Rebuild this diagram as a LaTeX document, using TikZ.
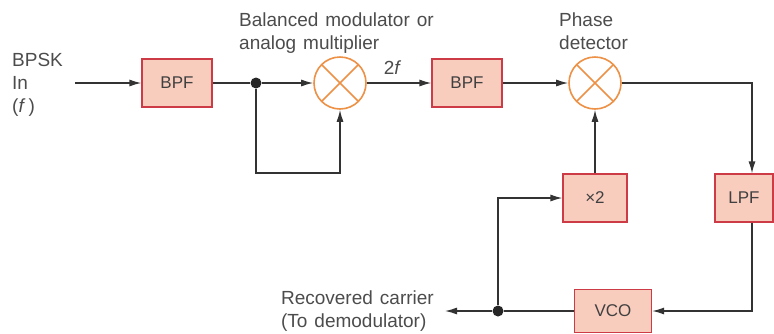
\documentclass[tikz,border=0pt]{standalone}
\usepackage{fontspec}
\setmainfont{Liberation Sans}
\usetikzlibrary{arrows.meta,positioning}
\definecolor{boxfill}{RGB}{249,205,190}
\definecolor{boxline}{RGB}{205,60,70}
\definecolor{mixline}{RGB}{236,145,70}
\newcommand\lblfont{\fontsize{19}{23}\selectfont\spaceskip 7pt plus 1pt\relax}

\begin{document}
\begin{tikzpicture}[x=1pt, y=1pt,
  blk/.style={draw=boxline, fill=boxfill, line width=1.2pt, minimum width=#1, minimum height=48pt,
              inner sep=0pt, font=\fontsize{17}{20}\selectfont, text=black!75},
  blk/.default=70pt,
  mix/.style={circle, draw=mixline, line width=1.6pt, minimum size=52pt, inner sep=0pt,
              path picture={\draw[mixline, line width=1.6pt]
                (path picture bounding box.north west) -- (path picture bounding box.south east)
                (path picture bounding box.north east) -- (path picture bounding box.south west);}},
  lbl/.style={align=left, font=\lblfont, text=black!70, inner sep=0pt},
  dot/.style={circle, fill=black!85, minimum size=11pt, inner sep=0pt},
  arr/.style={-{Latex[length=12pt,width=7pt]}, line width=1.3pt, draw=black!80},
  wire/.style={line width=1.3pt, draw=black!80},
]
\useasboundingbox (0,0) rectangle (774,-333);

%% ── UPPER CHAIN: squaring and filtering ─────────────────────────────────────
\node[lbl, anchor=north west] (bpsk) at (12,-53) {BPSK\\In\\(\textit{f}\,)};
\coordinate (in) at (75,-83);
\node[blk] (bpfA) at (177,-83) {BPF};
\node[dot] (split) at (256,-83) {};
\node[mix] (mixA) at (340,-83) {};
\node[lbl, anchor=north west] (balmod) at (239,-13) {Balanced modulator or\\analog multiplier};
\coordinate (loopA) at (256,-173);
\node[blk] (bpfB) at (467,-83) {BPF};
\node[mix] (mixB) at (595,-83) {};
\node[lbl, anchor=north west] (phdet) at (559,-13) {Phase\\detector};

%% ── LOWER LOOP: filter, VCO and doubler ─────────────────────────────────────
\node[blk=64pt] (dbl) at (595,-198) {×2};
\node[blk=58pt] (lpf) at (744,-198) {LPF};
\node[blk=77pt, minimum height=43pt] (vco) at (613,-311) {VCO};
\node[dot] (tap) at (498,-311) {};
\coordinate (out) at (445,-311);
\coordinate (rc) at (752,-83);
\node[lbl, anchor=north east] (rcv) at (434,-291) {Recovered carrier\\(To demodulator)};

%% ── CONNECTORS ──────────────────────────────────────────────────────────────
\draw[arr] (in) -- (bpfA);
\draw[wire] (bpfA) -- (split);
\draw[arr] (split) -- (mixA);
\draw[arr] (split) -- (loopA) -| (mixA.south);
\draw[arr] (mixA) -- node[lbl, above=8pt, pos=0.4] (twof) {2\textit{f}} (bpfB);
\draw[arr] (bpfB) -- (mixB);
\draw[arr] (mixB) -- (rc) -- (rc |- lpf.north);
\draw[arr] (rc |- lpf.south) |- (vco);
\draw[wire] (vco) -- (tap);
\draw[arr] (tap) -- (out);
\draw[arr] (tap) |- (dbl);
\draw[arr] (dbl) -- (mixB);
\end{tikzpicture}
\end{document}
